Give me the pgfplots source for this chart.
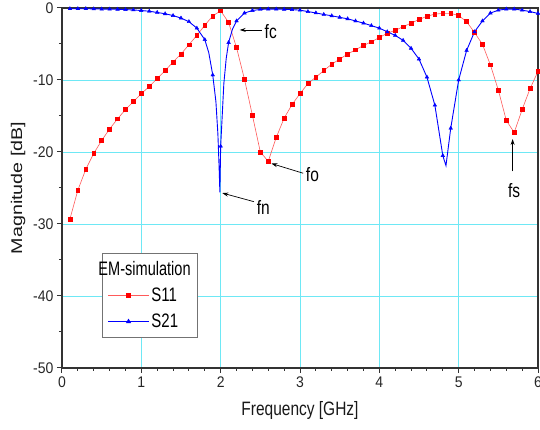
\documentclass[border=0pt]{standalone}
\usepackage{graphicx}
\usepackage{fontspec}
\setmainfont{Liberation Sans}
\usepackage{pgfplots}
\pgfplotsset{compat=1.18}
\usetikzlibrary{arrows.meta}
\definecolor{gridcyan}{RGB}{110,232,245}
\definecolor{sred}{RGB}{255,0,0}
\definecolor{sredline}{RGB}{255,90,90}
\definecolor{sblue}{RGB}{0,0,255}
\newcommand{\vs}[1]{\scalebox{1}[1.25]{#1}}
\newcommand{\lvs}[1]{\scalebox{1}[1.3]{#1}}
\begin{document}
\begin{tikzpicture}
\begin{axis}[
  at={(0,0)}, anchor=south west,
  scale only axis, width=476pt, height=360pt,
  xmin=0, xmax=6, ymin=-50, ymax=0,
  xtick={0,1,...,6}, ytick={-50,-40,...,0},
  minor x tick num=4, minor y tick num=1,
  tick align=outside, xtick pos=bottom, ytick pos=left,
  major tick length=5pt, minor tick length=3pt,
  grid=major, major grid style={gridcyan, line width=0.7pt},
  axis line style={line width=1.2pt, black!80},
  every tick/.append style={black!80, line width=1pt},
  /pgf/number format/assume math mode=true,
  tick label style={font=\fontsize{14}{16}\selectfont, black!85},
  xticklabel={\scalebox{1}[1.1]{\pgfmathprintnumber{\tick}}},
  yticklabel={\scalebox{1}[1.1]{\pgfmathprintnumber{\tick}}},
  xlabel={\vs{Frequency [GHz]}}, ylabel={\scalebox{1.27}[1]{Magnitude [dB]}},
  label style={font=\fontsize{15.5}{18}\selectfont, black!90},
  xlabel style={at={(axis description cs:0.5,-0.117)}, anchor=center},
  ylabel style={at={(axis description cs:-0.0924,0.5)}, anchor=center},
  legend image code/.code={\draw[mark repeat=2,mark phase=2] plot coordinates {(0pt,0pt)(20.5pt,0pt)(41pt,0pt)};},
  legend style={at={(axis cs:0.505,-34.0)}, anchor=north west, draw=black!55, line width=1pt,
    fill=white, font=\fontsize{15}{18}\selectfont, row sep=7pt, inner xsep=5pt, inner ysep=6pt},
  legend cell align=left,
]
\addlegendimage{empty legend}
\addlegendentry{\hspace{-53pt}\scalebox{0.97}[1.3]{EM-simulation}\hspace{4pt}}
\addlegendimage{sredline, line width=0.6pt, mark=square*, mark size=1.9pt, mark options={fill=sred, draw=sred, solid}}
\addlegendentry{\lvs{S11}}
\addlegendimage{sblue, line width=0.9pt, mark=triangle*, mark size=2.1pt, mark options={fill=sblue, draw=sblue, solid}}
\addlegendentry{\lvs{S21}}

% S11
\addplot[forget plot, sredline, line width=0.6pt, mark=square*, mark size=1.9pt, mark options={fill=sred, draw=sred}] coordinates {
(0.1,-29.3)(0.2,-25.3)(0.3,-22.4)(0.4,-20.2)(0.5,-18.4)(0.6,-16.8)(0.7,-15.4)(0.8,-14.1)(0.9,-13.0)(1.0,-11.9)
(1.1,-10.9)(1.2,-9.8)(1.3,-8.7)(1.4,-7.5)(1.5,-6.4)(1.6,-5.1)(1.7,-3.8)(1.8,-2.4)(1.9,-1.1)(2.0,-0.4)
(2.1,-2.0)(2.2,-5.5)(2.3,-9.9)(2.4,-14.9)(2.5,-20.0)(2.6,-21.3)(2.7,-18.0)(2.8,-15.3)(2.9,-13.4)(3.0,-11.9)
(3.1,-10.5)(3.2,-9.6)(3.3,-8.7)(3.4,-7.8)(3.5,-7.1)(3.6,-6.4)(3.7,-5.8)(3.8,-5.2)(3.9,-4.7)(4.0,-4.1)
(4.1,-3.5)(4.2,-3.1)(4.3,-2.6)(4.4,-2.1)(4.5,-1.6)(4.6,-1.15)(4.7,-0.85)(4.8,-0.75)(4.9,-0.75)(5.0,-1.05)
(5.1,-1.9)(5.2,-3.4)(5.3,-5.05)(5.4,-7.9)(5.5,-11.4)(5.6,-15.6)(5.7,-17.3)(5.8,-14.1)(5.9,-11.2)(6.0,-8.8)
};
% S21 line (dense near the dips)
\addplot[forget plot, sblue, line width=0.9pt, no marks] coordinates {
(0.1,-0.1)(0.2,-0.1)(0.3,-0.1)(0.4,-0.12)(0.5,-0.14)(0.6,-0.16)(0.7,-0.18)(0.8,-0.22)(0.9,-0.27)(1.0,-0.35)
(1.1,-0.45)(1.2,-0.62)(1.3,-0.8)(1.4,-1.05)(1.5,-1.4)(1.6,-1.9)(1.7,-2.8)(1.8,-4.4)(1.85,-6.2)(1.9,-9.3)
(1.94,-13.0)(1.965,-17.5)(1.98,-22.0)(1.99,-25.6)(2.0,-19.2)(2.04,-10.5)(2.07,-7.0)(2.1,-4.8)(2.15,-2.9)(2.2,-1.8)
(2.3,-0.7)(2.4,-0.35)(2.5,-0.2)(2.6,-0.15)(2.7,-0.15)(2.8,-0.18)(2.9,-0.22)(3.0,-0.3)
(3.1,-0.5)(3.2,-0.68)(3.3,-0.9)(3.4,-1.08)(3.5,-1.3)(3.6,-1.5)(3.7,-1.8)(3.8,-2.1)(3.9,-2.45)(4.0,-2.8)
(4.1,-3.3)(4.2,-3.8)(4.3,-4.5)(4.4,-5.6)(4.5,-7.1)(4.6,-9.6)(4.7,-13.5)(4.8,-20.5)(4.84,-21.9)(4.9,-16.7)
(5.0,-10.0)(5.1,-5.9)(5.2,-3.3)(5.3,-1.8)(5.4,-0.7)(5.5,-0.3)(5.6,-0.15)(5.7,-0.15)(5.8,-0.3)(5.9,-0.5)(6.0,-0.75)
};
% S21 markers
\addplot[forget plot, only marks, mark=triangle*, mark size=2.1pt, mark options={fill=sblue, draw=sblue}] coordinates {
(0.1,-0.1)(0.2,-0.1)(0.3,-0.1)(0.4,-0.12)(0.5,-0.14)(0.6,-0.16)(0.7,-0.18)(0.8,-0.22)(0.9,-0.27)(1.0,-0.35)
(1.1,-0.45)(1.2,-0.62)(1.3,-0.8)(1.4,-1.05)(1.5,-1.4)(1.6,-1.9)(1.7,-2.8)(1.8,-4.4)(1.9,-9.3)(2.0,-19.2)
(2.1,-4.8)(2.2,-1.8)(2.3,-0.7)(2.4,-0.35)(2.5,-0.2)(2.6,-0.15)(2.7,-0.15)(2.8,-0.18)(2.9,-0.22)(3.0,-0.3)
(3.1,-0.5)(3.2,-0.68)(3.3,-0.9)(3.4,-1.08)(3.5,-1.3)(3.6,-1.5)(3.7,-1.8)(3.8,-2.1)(3.9,-2.45)(4.0,-2.8)
(4.1,-3.3)(4.2,-3.8)(4.3,-4.5)(4.4,-5.6)(4.5,-7.1)(4.6,-9.6)(4.7,-13.5)(4.8,-20.5)(4.9,-16.7)
(5.0,-10.0)(5.1,-5.9)(5.2,-3.3)(5.3,-1.8)(5.4,-0.7)(5.5,-0.3)(5.6,-0.15)(5.7,-0.15)(5.8,-0.3)(5.9,-0.5)(6.0,-0.75)
};

% annotations
\draw[-{Stealth[length=6pt,width=4pt]}, black, line width=0.7pt] (axis cs:2.52,-3.05) -- (axis cs:2.24,-3.05);
\node[anchor=west, font=\fontsize{15.5}{18}\selectfont, inner sep=1pt] at (axis cs:2.54,-3.3) {\vs{fc}};
\draw[-{Stealth[length=6pt,width=4pt]}, black, line width=0.7pt] (axis cs:2.42,-26.9) -- (axis cs:2.02,-25.7);
\node[anchor=west, font=\fontsize{15.5}{18}\selectfont, inner sep=1pt] at (axis cs:2.44,-27.7) {\vs{fn}};
\draw[-{Stealth[length=6pt,width=4pt]}, black, line width=0.7pt] (axis cs:3.04,-22.95) -- (axis cs:2.64,-21.6);
\node[anchor=west, font=\fontsize{15.5}{18}\selectfont, inner sep=1pt] at (axis cs:3.06,-23.2) {\vs{fo}};
\draw[-{Stealth[length=6pt,width=4pt]}, black, line width=0.7pt] (axis cs:5.68,-22.7) -- (axis cs:5.68,-18.2);
\node[font=\fontsize{15.5}{18}\selectfont, inner sep=1pt] at (axis cs:5.70,-25.3) {\vs{fs}};
\end{axis}
\pgfresetboundingbox
\useasboundingbox (-62pt,-62pt) rectangle (478pt,368pt);
\end{tikzpicture}
\end{document}
